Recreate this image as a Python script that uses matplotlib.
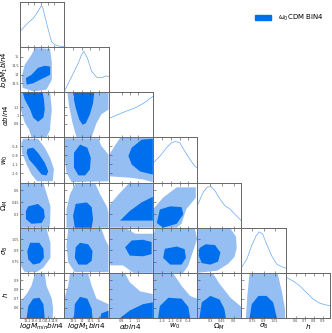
import matplotlib
matplotlib.use('agg')
import matplotlib.pyplot as plt
from matplotlib.patches import Patch

# parameters, labels, plotted ranges and ticks
labels = [r'$logM_{min}bin4$', r'$logM_1bin4$', r'$\alpha bin4$', r'$w_0$',
          r'$\Omega_M$', r'$\sigma_8$', r'$h$']
limits = [(12.74, 15.38), (13.0, 15.55), (0.48, 1.55), (-2.02, 0.0),
          (0.13, 0.70), (0.60, 1.20), (0.49, 0.98)]
ticks = [[13.2, 13.6, 14.0, 14.4, 14.8], [13.5, 14.0, 14.5, 15.0], [0.8, 1.0, 1.2],
         [-1.6, -1.2, -0.8, -0.4], [0.3, 0.45, 0.6], [0.75, 0.9, 1.05], [0.6, 0.7, 0.8, 0.9]]
ticklabels = [['13.2', '13.6', '14.0', '14.4', '14.8'], ['13.5', '14', '14.5', '15'],
              ['0.8', '1', '1.2'], ['-1.6', '-1.2', '-0.8', '-0.4'],
              ['0.3', '0.45', '0.6'], ['0.75', '0.9', '1.05'], ['0.6', '0.7', '0.8', '0.9']]

# 1D marginals (normalised to peak 1)
logMmin_x = [12.74, 13.14, 13.53, 13.82, 14.0, 14.09, 14.23, 14.43, 14.63, 14.83, 15.02, 15.38]
logMmin_p = [0.38, 0.56, 0.70, 0.87, 1.0, 0.98, 0.75, 0.42, 0.13, 0.055, 0.03, 0.01]
logM1_x = [13.0, 13.43, 13.82, 13.99, 14.13, 14.33, 14.58, 14.86, 15.14, 15.40, 15.55]
logM1_p = [0.02, 0.385, 0.72, 0.91, 1.0, 0.84, 0.51, 0.37, 0.35, 0.40, 0.38]
alpha_x = [0.48, 0.69, 0.91, 1.12, 1.34, 1.55]
alpha_p = [0.46, 0.55, 0.64, 0.72, 0.84, 1.0]
w0_x = [-2.0, -1.70, -1.39, -1.17, -0.99, -0.79, -0.57, -0.32, -0.10, 0.0]
w0_p = [0.48, 0.64, 0.85, 0.97, 1.0, 0.97, 0.77, 0.56, 0.40, 0.36]
Om_x = [0.13, 0.21, 0.26, 0.31, 0.36, 0.43, 0.49, 0.55, 0.625, 0.70]
Om_p = [0.53, 0.87, 0.99, 1.0, 0.90, 0.68, 0.53, 0.46, 0.31, 0.17]
s8_x = [0.6, 0.672, 0.738, 0.798, 0.84, 0.888, 0.942, 1.008, 1.08, 1.146, 1.2]
s8_p = [0.13, 0.33, 0.66, 0.90, 1.0, 0.945, 0.70, 0.42, 0.21, 0.15, 0.115]
h_x = [0.49, 0.573, 0.647, 0.72, 0.794, 0.867, 0.943, 0.98]
h_p = [1.0, 0.90, 0.78, 0.62, 0.46, 0.36, 0.315, 0.295]

# 2D credible regions, (x, y) outlines: 95% (outer) and 68% (inner)
logM1_logMmin_95 = [(13.64, 15.50), (14.54, 15.45), (14.64, 14.66), (14.64, 13.71), (14.32, 13.15),
                    (13.53, 13.05), (12.90, 13.26), (12.85, 13.89), (13.03, 14.56), (13.43, 15.12)]
logM1_logMmin_68 = [(13.10, 13.80), (13.14, 13.43), (13.53, 13.51), (14.14, 13.80), (14.54, 13.99),
                    (14.54, 14.45), (14.22, 14.50), (13.82, 14.38), (13.43, 13.99)]
alpha_logMmin_95 = [(12.74, 1.55), (14.54, 1.55), (14.64, 1.14), (14.56, 0.83), (14.54, 0.66),
                    (14.32, 0.48), (13.43, 0.48), (13.29, 0.66), (13.03, 0.83), (12.79, 1.14), (12.74, 1.34)]
alpha_logMmin_68 = [(12.90, 1.55), (14.09, 1.55), (14.17, 1.38), (14.22, 1.14), (14.14, 0.95),
                    (13.82, 0.85), (13.53, 0.95), (13.35, 1.14), (13.03, 1.38)]
w0_logMmin_95 = [(12.94, -0.06), (13.82, -0.06), (14.22, -0.46), (14.54, -0.91), (14.77, -1.43),
                 (14.69, -1.96), (13.77, -1.96), (13.43, -1.66), (13.14, -1.21), (12.86, -0.69), (12.82, -0.24)]
w0_logMmin_68 = [(13.19, -0.51), (13.53, -0.46), (13.82, -0.69), (14.22, -1.13), (14.43, -1.52),
                 (14.32, -1.70), (14.03, -1.66), (13.64, -1.29), (13.29, -0.99), (13.14, -0.69)]
Om_logMmin_95 = [(12.74, 0.69), (14.14, 0.69), (14.32, 0.57), (14.56, 0.40), (14.54, 0.19),
                 (14.48, 0.13), (12.74, 0.13)]
Om_logMmin_68 = [(13.24, 0.40), (13.82, 0.43), (14.17, 0.36), (14.22, 0.26), (14.03, 0.19),
                 (13.43, 0.18), (13.10, 0.24), (13.10, 0.34)]
s8_logMmin_95 = [(12.78, 1.19), (14.32, 1.19), (14.56, 1.00), (14.56, 0.80), (14.14, 0.67),
                 (13.74, 0.61), (13.03, 0.61), (12.78, 0.70)]
s8_logMmin_68 = [(13.35, 1.00), (13.90, 1.00), (14.14, 0.92), (14.17, 0.80), (13.93, 0.73),
                 (13.53, 0.71), (13.24, 0.78), (13.18, 0.89)]
h_logMmin_95 = [(13.64, 0.975), (14.22, 0.975), (14.32, 0.84), (14.64, 0.70), (14.72, 0.59),
                (14.69, 0.49), (12.74, 0.49), (12.74, 0.66), (13.14, 0.75), (13.43, 0.84)]
h_logMmin_68 = [(13.14, 0.49), (13.24, 0.62), (13.53, 0.70), (13.90, 0.71), (14.14, 0.64), (14.22, 0.49)]

alpha_logM1_95 = [(13.18, 1.55), (15.55, 1.55), (15.55, 1.14), (15.14, 1.03), (14.86, 0.82),
                  (14.66, 0.59), (14.58, 0.48), (13.71, 0.48), (13.48, 0.82), (13.28, 1.22)]
alpha_logM1_68 = [(13.56, 1.55), (14.73, 1.55), (14.66, 1.29), (14.48, 1.03), (14.25, 0.82),
                  (14.06, 0.78), (13.87, 0.90), (13.66, 1.18), (13.56, 1.38)]
w0_logM1_95 = [(13.04, -0.04), (14.96, -0.04), (15.14, -0.38), (15.55, -0.77), (15.55, -1.96),
               (13.43, -2.0), (13.13, -1.58), (13.04, -0.99)]
w0_logM1_68 = [(13.91, -0.32), (14.33, -0.46), (14.53, -0.91), (14.48, -1.43), (14.20, -1.70),
               (13.82, -1.70), (13.56, -1.35), (13.56, -0.69)]
Om_logM1_95 = [(13.66, 0.70), (14.76, 0.70), (15.07, 0.55), (15.45, 0.40), (15.55, 0.32),
               (15.55, 0.13), (13.13, 0.13), (13.13, 0.36), (13.33, 0.55)]
Om_logM1_68 = [(13.66, 0.43), (14.30, 0.45), (14.58, 0.39), (14.66, 0.24), (14.58, 0.13),
               (13.61, 0.13), (13.51, 0.28)]
s8_logM1_95 = [(13.23, 1.19), (15.14, 1.19), (15.35, 1.05), (15.55, 0.96), (15.55, 0.61),
               (13.61, 0.61), (13.23, 0.74), (13.13, 0.96)]
s8_logM1_68 = [(13.91, 1.00), (14.38, 0.98), (14.63, 0.89), (14.58, 0.76), (14.30, 0.71),
               (13.82, 0.71), (13.61, 0.80), (13.66, 0.94)]
h_logM1_95 = [(13.33, 0.975), (14.38, 0.975), (14.58, 0.84), (14.86, 0.70), (15.55, 0.64),
              (15.55, 0.49), (13.0, 0.49), (13.0, 0.70), (13.23, 0.84)]
h_logM1_68 = [(13.56, 0.49), (13.61, 0.64), (13.91, 0.72), (14.33, 0.70), (14.58, 0.59), (14.63, 0.49)]
h_logM1_68b = [(15.07, 0.49), (15.14, 0.54), (15.55, 0.57), (15.55, 0.49)]

w0_alpha_95 = [(0.76, -0.02), (1.55, -0.02), (1.55, -2.0), (1.31, -1.88), (0.99, -1.80),
               (0.48, -1.74), (0.48, -0.83), (0.63, -0.38)]
w0_alpha_68 = [(1.28, -0.10), (1.55, -0.06), (1.55, -1.66), (1.24, -1.52), (1.04, -1.21),
               (0.96, -0.83), (1.04, -0.46)]
Om_alpha_95 = [(0.99, 0.70), (1.55, 0.70), (1.55, 0.13), (0.48, 0.13), (0.48, 0.40), (0.72, 0.55)]
Om_alpha_68 = [(1.55, 0.52), (1.55, 0.22), (0.76, 0.22), (0.99, 0.34), (1.28, 0.45)]
s8_alpha_95 = [(0.48, 1.19), (0.92, 1.19), (1.12, 1.12), (1.55, 1.12), (1.55, 0.60),
               (1.08, 0.60), (0.83, 0.70), (0.48, 0.70)]
s8_alpha_68 = [(0.88, 0.94), (1.04, 1.03), (1.31, 1.04), (1.52, 1.01), (1.52, 0.85),
               (1.31, 0.82), (0.99, 0.83)]
h_alpha_95 = [(0.48, 0.975), (0.88, 0.975), (0.99, 0.88), (1.24, 0.78), (1.55, 0.75),
              (1.55, 0.49), (0.48, 0.49)]
h_alpha_68 = [(0.76, 0.49), (0.99, 0.57), (1.31, 0.64), (1.55, 0.66), (1.55, 0.49)]

Om_w0_95 = [(-0.93, 0.64), (-0.06, 0.64), (-0.06, 0.51), (-0.50, 0.36), (-0.71, 0.18),
            (-0.93, 0.13), (-2.02, 0.13), (-2.02, 0.36), (-1.55, 0.51)]
Om_w0_68 = [(-1.70, 0.36), (-1.23, 0.40), (-0.71, 0.39), (-0.63, 0.30), (-0.93, 0.18),
            (-1.55, 0.13), (-1.84, 0.19)]
s8_w0_95 = [(-1.92, 1.19), (-0.10, 1.19), (0.0, 1.05), (-0.25, 0.83), (-0.40, 0.70),
            (-0.63, 0.60), (-2.02, 0.60), (-2.02, 1.05)]
s8_w0_68 = [(-1.47, 0.92), (-0.93, 0.95), (-0.57, 0.915), (-0.51, 0.80), (-0.71, 0.71),
            (-1.23, 0.71), (-1.55, 0.80)]
h_w0_95 = [(-2.02, 0.975), (-1.09, 0.975), (-0.71, 0.84), (-0.32, 0.73), (0.0, 0.70),
           (0.0, 0.49), (-2.02, 0.49)]
h_w0_68 = [(-1.78, 0.49), (-1.70, 0.62), (-1.31, 0.71), (-0.71, 0.70), (-0.40, 0.61), (-0.32, 0.49)]

s8_Om_95 = [(0.13, 1.19), (0.56, 1.19), (0.63, 1.08), (0.64, 0.93), (0.61, 0.81),
            (0.53, 0.72), (0.39, 0.63), (0.13, 0.60)]
s8_Om_68 = [(0.16, 0.93), (0.24, 0.98), (0.36, 0.97), (0.43, 0.87), (0.40, 0.75),
            (0.30, 0.71), (0.19, 0.73), (0.15, 0.83)]
h_Om_95 = [(0.13, 0.98), (0.33, 0.98), (0.42, 0.86), (0.56, 0.71), (0.70, 0.61),
           (0.70, 0.49), (0.13, 0.49)]
h_Om_68 = [(0.16, 0.49), (0.19, 0.66), (0.30, 0.73), (0.42, 0.69), (0.48, 0.59), (0.50, 0.49)]

h_s8_95 = [(0.71, 0.975), (1.09, 0.975), (1.15, 0.77), (1.19, 0.59), (1.19, 0.49),
           (0.66, 0.49), (0.68, 0.73)]
h_s8_68 = [(0.71, 0.49), (0.74, 0.64), (0.83, 0.73), (0.94, 0.73), (1.03, 0.66), (1.08, 0.49)]

marginals = [(logMmin_x, logMmin_p), (logM1_x, logM1_p), (alpha_x, alpha_p), (w0_x, w0_p),
             (Om_x, Om_p), (s8_x, s8_p), (h_x, h_p)]
regions = {
    (1, 0): ([logM1_logMmin_95], [logM1_logMmin_68]),
    (2, 0): ([alpha_logMmin_95], [alpha_logMmin_68]),
    (3, 0): ([w0_logMmin_95], [w0_logMmin_68]),
    (4, 0): ([Om_logMmin_95], [Om_logMmin_68]),
    (5, 0): ([s8_logMmin_95], [s8_logMmin_68]),
    (6, 0): ([h_logMmin_95], [h_logMmin_68]),
    (2, 1): ([alpha_logM1_95], [alpha_logM1_68]),
    (3, 1): ([w0_logM1_95], [w0_logM1_68]),
    (4, 1): ([Om_logM1_95], [Om_logM1_68]),
    (5, 1): ([s8_logM1_95], [s8_logM1_68]),
    (6, 1): ([h_logM1_95], [h_logM1_68, h_logM1_68b]),
    (3, 2): ([w0_alpha_95], [w0_alpha_68]),
    (4, 2): ([Om_alpha_95], [Om_alpha_68]),
    (5, 2): ([s8_alpha_95], [s8_alpha_68]),
    (6, 2): ([h_alpha_95], [h_alpha_68]),
    (4, 3): ([Om_w0_95], [Om_w0_68]),
    (5, 3): ([s8_w0_95], [s8_w0_68]),
    (6, 3): ([h_w0_95], [h_w0_68]),
    (5, 4): ([s8_Om_95], [s8_Om_68]),
    (6, 4): ([h_Om_95], [h_Om_68]),
    (6, 5): ([h_s8_95], [h_s8_68]),
}

dark = '#006FED'
light = '#95BFF2'
n = len(labels)
L, R, B, T = 0.060, 0.994, 0.045, 0.994
pw = (R - L) / n
ph = (T - B) / n

fig = plt.figure(figsize=(3.32, 3.33), dpi=100)

for i in range(n):
    for j in range(i + 1):
        ax = fig.add_axes([L + j * pw, T - (i + 1) * ph, pw, ph])
        ax.set_xlim(limits[j])
        if i == j:
            xs, ps = marginals[i]
            ax.plot(xs, ps, color=dark, lw=0.5, alpha=0.6)
            ax.set_ylim(0, 1.1)
            ax.set_yticks([])
        else:
            ax.set_ylim(limits[i])
            outer, inner = regions[(i, j)]
            for poly in outer:
                ax.fill([p[0] for p in poly], [p[1] for p in poly], color=light, lw=0)
            for poly in inner:
                ax.fill([p[0] for p in poly], [p[1] for p in poly], color=dark, lw=0)
            ax.set_yticks(ticks[i])
            if j == 0:
                ax.set_yticklabels(ticklabels[i])
                ax.set_ylabel(labels[i], fontsize=5.0)
                ax.yaxis.set_label_coords(-0.235, 0.5)
            else:
                ax.set_yticklabels([])
        ax.set_xticks(ticks[j])
        if i == n - 1:
            ax.set_xticklabels(ticklabels[j])
            ax.set_xlabel(labels[j], fontsize=5.3)
            ax.xaxis.set_label_coords(0.5, -0.09)
        else:
            ax.set_xticklabels([])
        ax.tick_params(direction='in', length=1.8, width=0.4, labelsize=2.4, pad=0.8,
                       top=True, colors='#444444')
        for s in ax.spines.values():
            s.set_color('#666666')
            s.set_linewidth(0.7)

fig.legend(handles=[Patch(color=dark)], labels=[r'$\omega_0$CDM BIN4'],
           loc='upper right', bbox_to_anchor=(0.995, 0.98), frameon=False,
           fontsize=5, handlelength=2.4, handleheight=0.7, handletextpad=1.0)

plt.savefig('out.png', dpi=100)
